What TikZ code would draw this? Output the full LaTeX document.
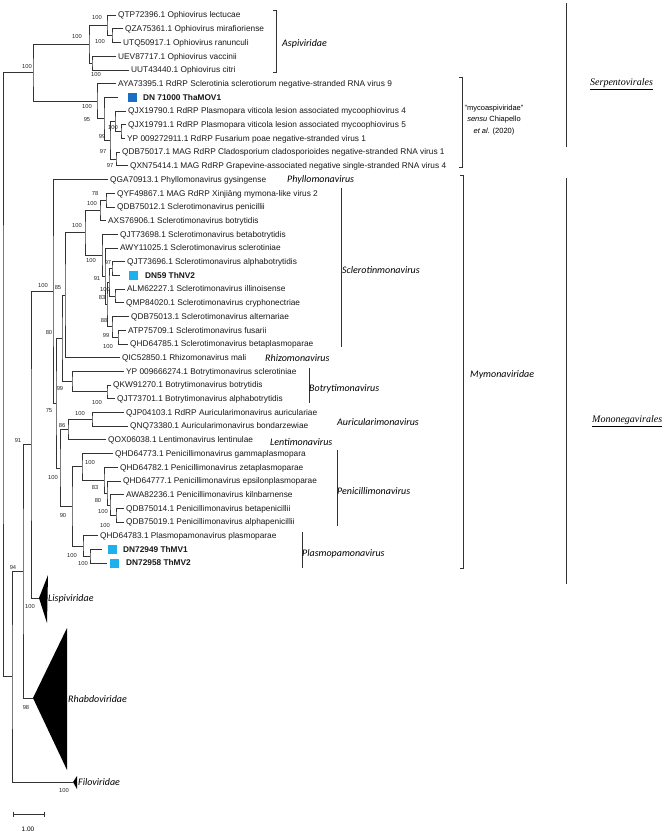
\documentclass[tikz,border=0pt]{standalone}
\usepackage{fontspec}
\setmainfont{Liberation Sans}
\newfontfamily\calib{Carlito}
\newfontfamily\tnr{Liberation Serif}
\definecolor{dkblue}{HTML}{1B6EC2}
\definecolor{ltblue}{HTML}{1EB0EC}
\definecolor{ln}{HTML}{333333}
\begin{document}
\begin{tikzpicture}[x=1pt,y=-1pt,
  br/.style={draw=ln,line width=0.6pt},
  brk/.style={draw=ln,line width=0.8pt},
  leaf/.style={anchor=west,inner xsep=2pt,inner ysep=0pt,text height=5.9pt,text depth=0pt,font=\fontsize{8.3}{10}\selectfont,text=black!90},
  dnl/.style={leaf,inner xsep=0pt,font=\fontsize{8.3}{10}\selectfont\bfseries},
  sqd/.style={minimum size=9pt,inner sep=0pt},
  bs/.style={inner sep=0pt,font=\fontsize{5.8}{6}\selectfont,text=black!85},
  grp/.style={anchor=west,inner sep=0pt,text height=6.5pt,text depth=0pt,font=\calib\itshape\fontsize{10}{12}\selectfont},
  ord/.style={anchor=west,inner sep=0pt,text height=6.5pt,text depth=0pt,font=\tnr\itshape\fontsize{10}{12}\selectfont}
]
\useasboundingbox (0,0) rectangle (666,833);
\fill[white] (0,0) rectangle (666,833);

% ---------- leaves ----------
\node[leaf] (l1) at (116,15.0) {QTP72396.1 Ophiovirus lectucae};
\node[leaf] (l2) at (123,28.7) {QZA75361.1 Ophiovirus mirafioriense};
\node[leaf] (l3) at (121,42.4) {UTQ50917.1 Ophiovirus ranunculi};
\node[leaf] (l4) at (116,56.1) {UEV87717.1 Ophiovirus vaccinii};
\node[leaf] (l5) at (129,69.8) {UUT43440.1 Ophiovirus citri};
\node[leaf] (l6) at (116,83.5) {AYA73395.1 RdRP Sclerotinia sclerotiorum negative-stranded RNA virus 9};
\coordinate (e7) at (118,97.2);
\node[sqd,fill=dkblue] (q7) at (132.5,97.2) {};
\node[dnl] (l7) at (143,97.2) {DN 71000 ThaMOV1};
\node[leaf] (l8) at (126,110.9) {QJX19790.1 RdRP Plasmopara viticola lesion associated mycoophiovirus 4};
\node[leaf] (l9) at (126,124.6) {QJX19791.1 RdRP Plasmopara viticola lesion associated mycoophiovirus 5};
\node[leaf] (l10) at (125,138.3) {YP 009272911.1 RdRP Fusarium poae negative-stranded virus 1};
\node[leaf] (l11) at (120,152.0) {QDB75017.1 MAG RdRP Cladosporium cladosporioides negative-stranded RNA virus 1};
\node[leaf] (l12) at (128,165.7) {QXN75414.1 MAG RdRP Grapevine-associated negative single-stranded RNA virus 4};
\node[leaf] (l13) at (108,179.4) {QGA70913.1 Phyllomonavirus gysingense};
\node[leaf] (l14) at (115,193.1) {QYF49867.1 MAG RdRP Xinjiāng mymona-like virus 2};
\node[leaf] (l15) at (115,206.8) {QDB75012.1 Sclerotimonavirus penicillii};
\node[leaf] (l16) at (106,220.5) {AXS76906.1 Sclerotimonavirus botrytidis};
\node[leaf] (l17) at (118,234.2) {QJT73698.1 Sclerotimonavirus betabotrytidis};
\node[leaf] (l18) at (118,247.9) {AWY11025.1 Sclerotimonavirus sclerotiniae};
\node[leaf] (l19) at (125,261.6) {QJT73696.1 Sclerotimonavirus alphabotrytidis};
\coordinate (e20) at (120,275.3);
\node[sqd,fill=ltblue] (q20) at (133.5,275.3) {};
\node[dnl] (l20) at (145,275.3) {DN59 ThNV2};
\node[leaf] (l21) at (125,289.0) {ALM62227.1 Sclerotimonavirus illinoisense};
\node[leaf] (l22) at (124,302.7) {QMP84020.1 Sclerotimonavirus cryphonectriae};
\node[leaf] (l23) at (129,316.4) {QDB75013.1 Sclerotimonavirus alternariae};
\node[leaf] (l24) at (126,330.1) {ATP75709.1 Sclerotimonavirus fusarii};
\node[leaf] (l25) at (128,343.8) {QHD64785.1 Sclerotimonavirus betaplasmoparae};
\node[leaf] (l26) at (120,357.5) {QIC52850.1 Rhizomonavirus mali};
\node[leaf] (l27) at (124,371.2) {YP 009666274.1 Botrytimonavirus sclerotiniae};
\node[leaf] (l28) at (111,384.9) {QKW91270.1 Botrytimonavirus botrytidis};
\node[leaf] (l29) at (115,398.6) {QJT73701.1 Botrytimonavirus alphabotrytidis};
\node[leaf] (l30) at (124,412.3) {QJP04103.1 RdRP Auricularimonavirus auriculariae};
\node[leaf] (l31) at (128,426.0) {QNQ73380.1 Auricularimonavirus bondarzewiae};
\node[leaf] (l32) at (106,439.7) {QOX06038.1 Lentimonavirus lentinulae};
\node[leaf] (l33) at (113,453.4) {QHD64773.1 Penicillimonavirus gammaplasmopara};
\node[leaf] (l34) at (118,467.1) {QHD64782.1 Penicillimonavirus zetaplasmoparae};
\node[leaf] (l35) at (121,480.8) {QHD64777.1 Penicillimonavirus epsilonplasmoparae};
\node[leaf] (l36) at (124,494.5) {AWA82236.1 Penicillimonavirus kilnbarnense};
\node[leaf] (l37) at (124,508.2) {QDB75014.1 Penicillimonavirus betapenicillii};
\node[leaf] (l38) at (124,521.9) {QDB75019.1 Penicillimonavirus alphapenicillii};
\node[leaf] (l39) at (98,535.6) {QHD64783.1 Plasmopamonavirus plasmoparae};
\coordinate (e40) at (102,549.3);
\node[sqd,fill=ltblue] (q40) at (112.5,549.3) {};
\node[dnl] (l40) at (123,549.3) {DN72949 ThMV1};
\coordinate (e41) at (107,563.0);
\node[sqd,fill=ltblue] (q41) at (114.5,563.0) {};
\node[dnl] (l41) at (126,563.0) {DN72958 ThMV2};

% ---------- internal nodes ----------
\coordinate (a2) at (112,35.55);
\coordinate (a1) at (107,25.28);
\coordinate (a3) at (92,62.95);
\coordinate (A) at (89,44.11);
\coordinate (m5) at (121,131.45);
\coordinate (m5p) at (115,121.18);
\coordinate (m6) at (116,158.85);
\coordinate (m3) at (110,140.01);
\coordinate (m2) at (104,118.6);
\coordinate (M) at (97,101.05);
\coordinate (S) at (33,72.58);
\coordinate (sa) at (106,199.95);
\coordinate (sb) at (100,210.2);
\coordinate (s1) at (112,268.45);
\coordinate (s2) at (115,295.85);
\coordinate (x3) at (109,282.15);
\coordinate (s4) at (118,336.95);
\coordinate (x5) at (112,326.7);
\coordinate (x2) at (107,304.4);
\coordinate (x1) at (105,276.15);
\coordinate (sc) at (102,255.2);
\coordinate (sc0) at (85,232.7);
\coordinate (Na) at (65,295.1);
\coordinate (b1) at (107,391.75);
\coordinate (bot) at (72,381.5);
\coordinate (Nb) at (62,338.3);
\coordinate (au) at (92,419.15);
\coordinate (al) at (68,429.4);
\coordinate (p5) at (116,515.05);
\coordinate (p4) at (110,504.8);
\coordinate (p3) at (107,492.8);
\coordinate (p2) at (104,479.95);
\coordinate (p1) at (82,466.7);
\coordinate (q2) at (90,556.15);
\coordinate (q1) at (83,545.9);
\coordinate (pp) at (72,506.3);
\coordinate (Nf) at (60,467.85);
\coordinate (Nc) at (56,403.1);
\coordinate (N0) at (53,291.25);
\coordinate (lsA) at (39,598);
\coordinate (lsT) at (48,575);
\coordinate (lsB) at (47,623);
\coordinate (L) at (31,444.6);
\coordinate (rhA) at (33,698);
\coordinate (rhT) at (67,628);
\coordinate (rhB) at (67,770);
\coordinate (K) at (23,571.3);
\coordinate (fiA) at (73,782);
\coordinate (fiT) at (77,776);
\coordinate (fiB) at (77,789);
\coordinate (J) at (12,676.6);
\coordinate (R) at (3,374.6);

% ---------- branches ----------
\draw[br] (l2.west) -| (a2) |- (l3.west);
\draw[br] (l1.west) -| (a1) |- (a2);
\draw[br] (l4.west) -| (a3) |- (l5.west);
\draw[br] (a1) -| (A) |- (a3);
\draw[br] (l9.west) -| (m5) |- (l10.west);
\draw[br] (l8.west) -| (m5p) |- (m5);
\draw[br] (l11.west) -| (m6) |- (l12.west);
\draw[br] (m5p) -| (m3) |- (m6);
\draw[br] (e7) -| (m2) |- (m3);
\draw[br] (l6.west) -| (M) |- (m2);
\draw[br] (A) -| (S) |- (M);
\draw[br] (l14.west) -| (sa) |- (l15.west);
\draw[br] (sa) -| (sb) |- (l16.west);
\draw[br] (l19.west) -| (s1) |- (e20);
\draw[br] (l21.west) -| (s2) |- (l22.west);
\draw[br] (s1) -| (x3) |- (s2);
\draw[br] (l24.west) -| (s4) |- (l25.west);
\draw[br] (l23.west) -| (x5) |- (s4);
\draw[br] (x3) -| (x2) |- (x5);
\draw[br] (l18.west) -| (x1) |- (x2);
\draw[br] (l17.west) -| (sc) |- (x1);
\draw[br] (sb) -| (sc0) |- (sc);
\draw[br] (sc0) -| (Na) |- (l26.west);
\draw[br] (l28.west) -| (b1) |- (l29.west);
\draw[br] (l27.west) -| (bot) |- (b1);
\draw[br] (Na) -| (Nb) |- (bot);
\draw[br] (l30.west) -| (au) |- (l31.west);
\draw[br] (au) -| (al) |- (l32.west);
\draw[br] (l37.west) -| (p5) |- (l38.west);
\draw[br] (l36.west) -| (p4) |- (p5);
\draw[br] (l35.west) -| (p3) |- (p4);
\draw[br] (l34.west) -| (p2) |- (p3);
\draw[br] (l33.west) -| (p1) |- (p2);
\draw[br] (e40) -| (q2) |- (e41);
\draw[br] (l39.west) -| (q1) |- (q2);
\draw[br] (p1) -| (pp) |- (q1);
\draw[br] (al) -| (Nf) |- (pp);
\draw[br] (Nb) -| (Nc) |- (Nf);
\draw[br] (l13.west) -| (N0) |- (Nc);
\draw[br] (N0) -| (L) |- (lsA);
\draw[br] (L) -| (K) |- (rhA);
\draw[br] (K) -| (J) |- (fiA);
\draw[br] (S) -| (R) |- (J);

% collapsed clades
\fill[black] (lsA) -- (lsT) -- (lsB) -- cycle;
\fill[black] (rhA) -- (rhT) -- (rhB) -- cycle;
\fill[black] (fiA) -- (fiT) -- (fiB) -- cycle;

% ---------- bootstrap values ----------
\node[bs] (b01) at (97,18) {100};
\node[bs] (b02) at (100,42) {100};
\node[bs] (b03) at (77,37) {100};
\node[bs] (b04) at (96,74.5) {100};
\node[bs] (b05) at (27,67) {100};
\node[bs] (b06) at (87,107) {100};
\node[bs] (b07) at (87,120) {95};
\node[bs] (b08) at (113,127.5) {100};
\node[bs] (b09) at (102,137) {99};
\node[bs] (b10) at (103,151) {97};
\node[bs] (b11) at (110,165) {97};
\node[bs] (b12) at (95,193) {78};
\node[bs] (b13) at (92,203) {100};
\node[bs] (b14) at (77,225) {100};
\node[bs] (b15) at (91,260) {100};
\node[bs] (b16) at (108,262) {97};
\node[bs] (b17) at (97,278) {91};
\node[bs] (b18) at (105,289) {100};
\node[bs] (b19) at (102,297) {83};
\node[bs] (b20) at (104,320) {88};
\node[bs] (b21) at (106,335) {99};
\node[bs] (b22) at (108,346) {100};
\node[bs] (b23) at (43,285) {100};
\node[bs] (b24) at (58,287) {85};
\node[bs] (b25) at (49,332) {80};
\node[bs] (b26) at (60,388) {99};
\node[bs] (b27) at (97,402) {100};
\node[bs] (b28) at (49,411) {75};
\node[bs] (b29) at (80,413) {100};
\node[bs] (b30) at (62,425) {86};
\node[bs] (b31) at (90,462) {100};
\node[bs] (b32) at (53,477) {100};
\node[bs] (b33) at (95,487) {83};
\node[bs] (b34) at (98,500) {80};
\node[bs] (b35) at (103,511) {100};
\node[bs] (b36) at (63,515) {90};
\node[bs] (b37) at (105,525) {100};
\node[bs] (b38) at (72,555) {100};
\node[bs] (b39) at (83,563) {100};
\node[bs] (b40) at (18,440) {91};
\node[bs] (b41) at (13,567) {94};
\node[bs] (b42) at (30,606) {100};
\node[bs] (b43) at (26,707) {98};
\node[bs] (b44) at (64,790) {100};

% ---------- clade labels ----------
\coordinate (ab1) at (273,10); \coordinate (ab2) at (276,10);
\coordinate (ab3) at (276,72); \coordinate (ab4) at (273,72);
\draw[brk] (ab1) -- (ab2) -- (ab3) -- (ab4);
\node[grp] (tAsp) at (282,43) {Aspiviridae};

\coordinate (mb1) at (459,77); \coordinate (mb2) at (462,77);
\coordinate (mb3) at (462,167); \coordinate (mb4) at (459,167);
\draw[brk] (mb1) -- (mb2) -- (mb3) -- (mb4);
\node[align=center,inner sep=0pt,font=\fontsize{7.5}{11.5}\selectfont] (tMyc) at (494,120)
  {"mycoaspiviridae"\\\textit{sensu} Chiapello\\\textit{et al.} (2020)};

\coordinate (yb1) at (460,175); \coordinate (yb2) at (463,175);
\coordinate (yb3) at (463,568); \coordinate (yb4) at (460,568);
\draw[brk] (yb1) -- (yb2) -- (yb3) -- (yb4);
\node[grp] (tMym) at (470,374) {Mymonaviridae};

\coordinate (sv1) at (341,188); \coordinate (sv2) at (341,347);
\draw[brk] (sv1) -- (sv2);
\node[grp] (tScl) at (342,270) {Sclerotinmonavirus};
\coordinate (bv1) at (309,368); \coordinate (bv2) at (309,403);
\draw[brk] (bv1) -- (bv2);
\node[grp] (tBot) at (309,388) {Botrytimonavirus};
\coordinate (pv1) at (337,450); \coordinate (pv2) at (337,526);
\draw[brk] (pv1) -- (pv2);
\node[grp] (tPen) at (337,491) {Penicillimonavirus};
\coordinate (qv1) at (302,532); \coordinate (qv2) at (302,568);
\draw[brk] (qv1) -- (qv2);
\node[grp] (tPla) at (302,553) {Plasmopamonavirus};

\node[grp] (tPhy) at (287,179.4) {Phyllomonavirus};
\node[grp] (tRhi) at (265,358) {Rhizomonavirus};
\node[grp] (tAur) at (337,422) {Auricularimonavirus};
\node[grp] (tLen) at (270,442) {Lentimonavirus};
\node[grp] (tLis) at (48,598) {Lispiviridae};
\node[grp] (tRha) at (68,699) {Rhabdoviridae};
\node[grp] (tFil) at (78,782) {Filoviridae};

\coordinate (o1) at (566,3); \coordinate (o2) at (566,147);
\draw[brk] (o1) -- (o2);
\node[ord] (tSer) at (590,82) {\underline{Serpentovirales}};
\coordinate (o3) at (566,178); \coordinate (o4) at (566,584);
\draw[brk] (o3) -- (o4);
\node[ord] (tMon) at (592,419) {\underline{Mononegavirales}};

% ---------- scale bar ----------
\coordinate (sc1) at (13,814); \coordinate (sc2) at (44,814);
\coordinate (sc1a) at (13,811.5); \coordinate (sc1b) at (13,816.5);
\coordinate (sc2a) at (44,811.5); \coordinate (sc2b) at (44,816.5);
\draw[br] (sc1) -- (sc2);
\draw[br] (sc1a) -- (sc1b);
\draw[br] (sc2a) -- (sc2b);
\node[inner sep=0pt,font=\fontsize{6.5}{8}\selectfont] (tScale) at (28,829) {1.00};
\end{tikzpicture}
\end{document}
